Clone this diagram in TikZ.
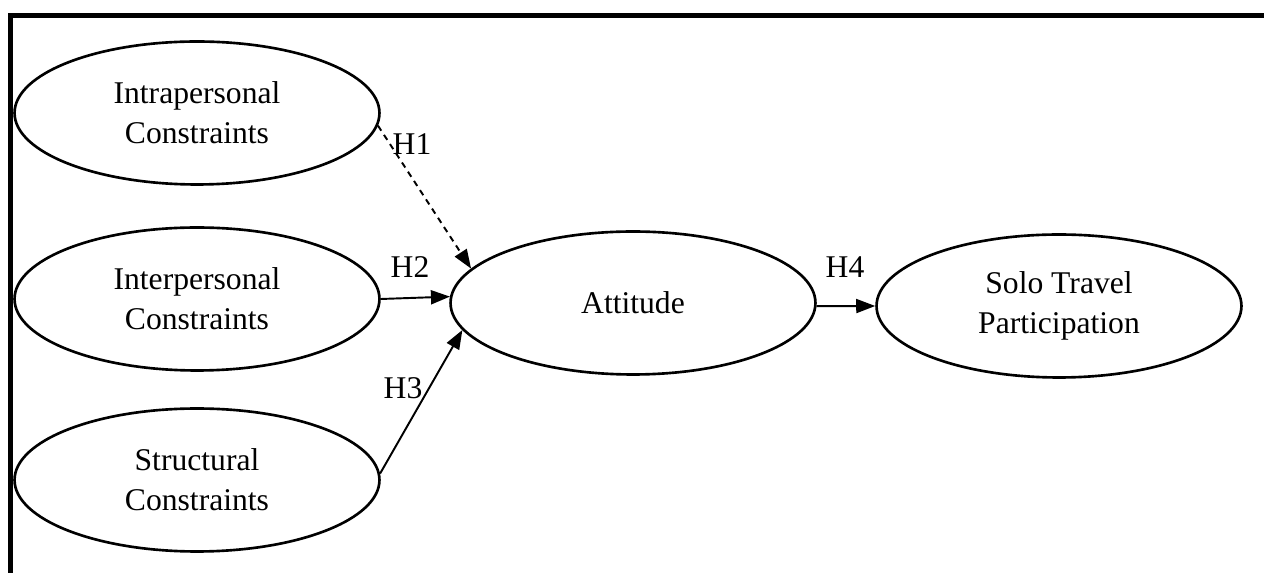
\documentclass[tikz,border=0pt]{standalone}
\usepackage{fontspec}
\setmainfont{Liberation Serif}
\usetikzlibrary{shapes.geometric,arrows.meta}

\begin{document}
\begin{tikzpicture}[x=0.02cm, y=-0.02cm,
        construct/.style={ellipse, draw, line width=1.5pt, inner sep=0pt,
            minimum width=7.3cm, minimum height=2.86cm, align=center,
            font=\fontsize{18}{22.8}\selectfont},
        path/.style={-{Triangle[length=0.38cm, width=0.28cm]}, line width=1.1pt},
        hyp/.style={font=\fontsize{18}{22}\selectfont, inner sep=0pt}
    ]
        \useasboundingbox (0,0) rectangle (1264,573);
        % Frame
        \draw[line width=0.1cm, line join=miter] (10.8,573) -- (10.8,15.8) -- (1264,15.8);

        % Constructs
        \node[construct] (intra) at (197,113) {Intrapersonal\\Constraints};
        \node[construct] (inter) at (197,299) {Interpersonal\\Constraints};
        \node[construct] (struct) at (197,480) {Structural\\Constraints};
        \node[construct] (att) at (633,303) {Attitude};
        \node[construct] (solo) at (1059,306) {Solo Travel\\Participation};

        % Hypotheses
        \draw[path, dash pattern=on 0.12cm off 0.1cm] (intra.-4) -- (att.168);
        \draw[path] (inter.east) -- (att.178);
        \draw[path] (struct.2) -- (att.-171);
        \draw[path] (att.-1) -- (solo.west);

        \node[hyp] (h1) at (412,144) {H1};
        \node[hyp] (h2) at (410,267) {H2};
        \node[hyp] (h3) at (403,388) {H3};
        \node[hyp] (h4) at (845,267) {H4};
    \end{tikzpicture}
\end{document}
